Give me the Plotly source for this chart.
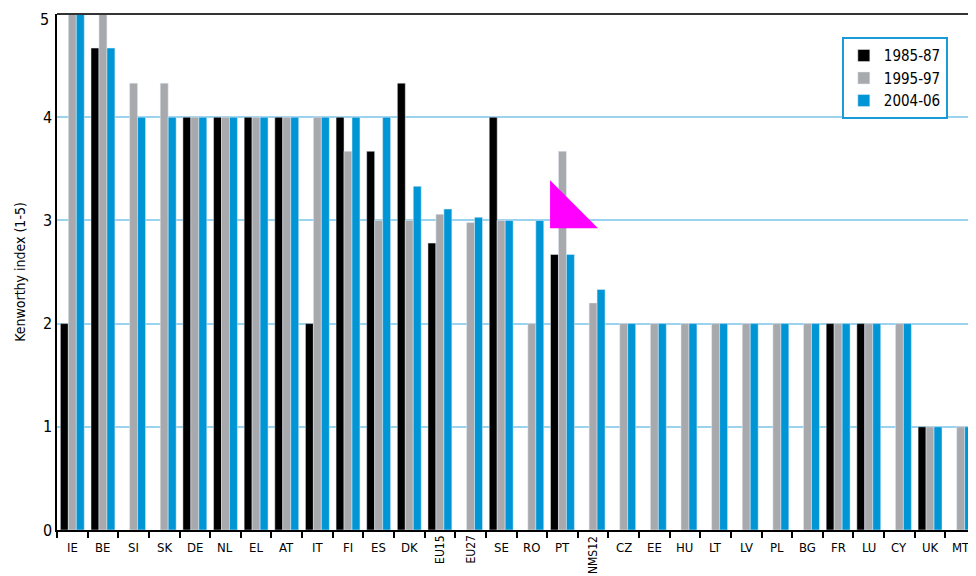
import plotly.graph_objects as go

countries = ["IE", "BE", "SI", "SK", "DE", "NL", "EL", "AT", "IT", "FI", "ES", "DK",
             "EU15", "EU27", "SE", "RO", "PT", "NMS12", "CZ", "EE", "HU", "LT", "LV",
             "PL", "BG", "FR", "LU", "CY", "UK", "MT"]
rotated = ["EU15", "EU27", "NMS12"]
y_ticks = [0, 1, 2, 3, 4]

v1985 = [2, 4.67, None, None, 4, 4, 4, 4, 2, 4, 3.67, 4.33,
         2.78, None, 4, None, 2.67, None, None, None, None, None, None,
         None, None, 2, 2, None, 1, None]
v1995 = [5, 5, 4.33, 4.33, 4, 4, 4, 4, 4, 3.67, 3, 3,
         3.06, 2.98, 3, 2, 3.67, 2.2, 2, 2, 2, 2, 2,
         2, 2, 2, 2, 2, 1, 1]
v2004 = [5, 4.67, 4, 4, 4, 4, 4, 4, 4, 4, 4, 3.33,
         3.11, 3.03, 3, 3, 2.67, 2.33, 2, 2, 2, 2, 2,
         2, 2, 2, 2, 2, 1, 1]

FONT = "Liberation Sans Narrow, DejaVu Sans Condensed, Arial Narrow, sans-serif"

fig = go.Figure()
fig.add_trace(go.Bar(x=countries, y=v1985, name="1985-87", marker_color="#000000"))
fig.add_trace(go.Bar(x=countries, y=v1995, name="1995-97", marker_color="#a7a9ac"))
fig.add_trace(go.Bar(x=countries, y=v2004, name="2004-06", marker_color="#0096d6"))

# category labels (some rotated)
for c in countries:
    if c in rotated:
        fig.add_annotation(x=c, y=0, yref="paper", text=c, showarrow=False,
                           textangle=-90, xanchor="center", yanchor="top", yshift=-4,
                           font=dict(size=12, color="#000000", family=FONT))
    else:
        fig.add_annotation(x=c, y=0, yref="paper", text=c, showarrow=False,
                           xanchor="center", yanchor="top", yshift=-8,
                           font=dict(size=13, color="#000000", family=FONT))

# top tick label sits at the very edge, plotly would drop it
fig.add_annotation(x=0, xref="paper", xanchor="right", xshift=-6, y=1, yref="paper",
                   yanchor="top", yshift=6, text="5", showarrow=False,
                   font=dict(size=16, color="#000000", family=FONT))

# overlay marker seen on the chart
fig.add_shape(type="path", xref="paper", yref="paper",
              path="M 0.5365 0.678 L 0.5365 0.585 L 0.5887 0.585 Z",
              fillcolor="#ff00ff", line=dict(width=0))

# page body has an 8px default margin, so the figure is a bit smaller
fig.update_layout(
    width=968, height=568,
    margin=dict(l=49, r=0, t=6, b=46),
    barmode="group", bargap=0.22, bargroupgap=0,
    plot_bgcolor="white", paper_bgcolor="white",
    font=dict(family=FONT, size=14, color="#000000"),
    legend=dict(x=0.854, y=0.955, xanchor="left", yanchor="top",
                bordercolor="#1a9ad6", borderwidth=2, bgcolor="white",
                font=dict(size=15, family=FONT), itemwidth=30),
    showlegend=True,
)
fig.update_xaxes(showticklabels=False, ticks="outside", tickson="boundaries",
                 ticklen=6, tickcolor="#000000", tickwidth=1.5,
                 showline=True, linecolor="#000000", linewidth=1.5,
                 mirror=False, showgrid=False, automargin=False)
fig.update_yaxes(range=[0, 5], tickvals=y_ticks, showgrid=True, gridcolor="#9bd3ef", gridwidth=1.5,
                 showline=True, linecolor="#000000", linewidth=1.5,
                 zeroline=False, ticks="", tickfont=dict(size=16), automargin=False,
                 title=dict(text="Kenworthy index (1-5)", font=dict(size=14), standoff=14))
# top border line
fig.add_shape(type="line", xref="paper", yref="paper", x0=0, x1=1, y0=1, y1=1,
              line=dict(color="#333333", width=2))

fig.write_html("out.html")
